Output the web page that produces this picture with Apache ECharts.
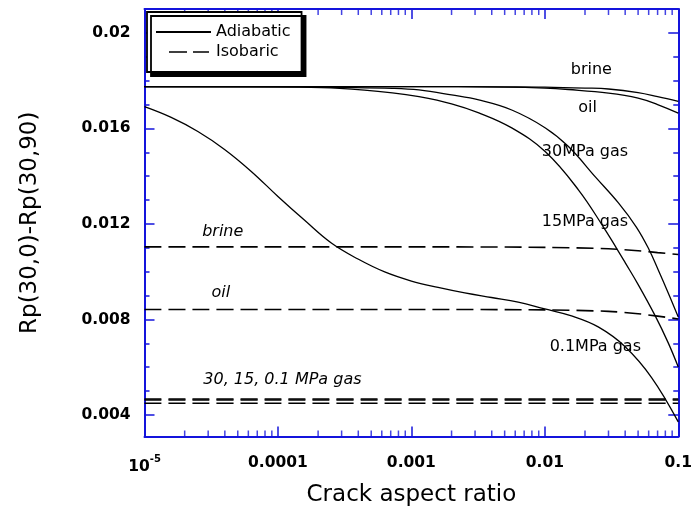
<!DOCTYPE html>
<html><head><meta charset="utf-8">
<script src="https://cdn.jsdelivr.net/npm/echarts@6/dist/echarts.min.js"></script>
<style>html,body{margin:0;padding:0;background:#fff}#c{width:695px;height:516px}</style>
</head><body><div id="c"></div>
<script>
// ---- data ----
const xTickValues = [1e-5, 1e-4, 1e-3, 1e-2, 0.1];
const xTickLabels = ['10^-5', '0.0001', '0.001', '0.01', '0.1'];
const xMinorTicks = [2e-5,3e-5,4e-5,5e-5,6e-5,7e-5,8e-5,9e-5,
                     2e-4,3e-4,4e-4,5e-4,6e-4,7e-4,8e-4,9e-4,
                     2e-3,3e-3,4e-3,5e-3,6e-3,7e-3,8e-3,9e-3,
                     2e-2,3e-2,4e-2,5e-2,6e-2,7e-2,8e-2,9e-2];
const yTickValues = [0.004, 0.008, 0.012, 0.016, 0.02];
const yTickLabels = ['0.004', '0.008', '0.012', '0.016', '0.02'];
const yMinorTicks = [0.004,0.005,0.006,0.007,0.008,0.009,0.010,0.011,0.012,
                     0.013,0.014,0.015,0.016,0.017,0.018,0.019,0.020];
const xRange = [1e-5, 0.1];
const yRange = [0.0031, 0.021];

// Adiabatic (solid) curves: [crack aspect ratio, Rp(30,0)-Rp(30,90)]
const brineAdiabatic = [[1e-5,0.01775],[1e-4,0.01775],[1e-3,0.01775],[0.005,0.01774],[0.01,0.01773],
  [0.02,0.01769],[0.03,0.01765],[0.05,0.01750],[0.07,0.01733],[0.1,0.01713]];
const oilAdiabatic = [[1e-5,0.01775],[1e-4,0.01775],[1e-3,0.01775],[0.005,0.01773],[0.01,0.01769],
  [0.015,0.01763],[0.03,0.01748],[0.05,0.01727],[0.07,0.01700],[0.1,0.01664]];
const gas30Adiabatic = [[1e-5,0.01775],[1e-4,0.01775],[2.9e-4,0.01772],[7.2e-4,0.01768],[1.14e-3,0.01761],
  [2.0e-3,0.01740],[3.2e-3,0.01719],[5.65e-3,0.01677],[1.01e-2,0.01602],[1.51e-2,0.01523],
  [2.39e-2,0.01397],[3.56e-2,0.01288],[4.85e-2,0.01187],[5.96e-2,0.01099],[7.08e-2,0.01007],
  [8.41e-2,0.00911],[0.1,0.00810]];
const gas15Adiabatic = [[1e-5,0.01775],[1.45e-4,0.01773],[2.9e-4,0.01768],[7.2e-4,0.01749],[1.14e-3,0.01733],
  [2.0e-3,0.01703],[3.2e-3,0.01665],[5.65e-3,0.01602],[1.01e-2,0.01502],[1.79e-2,0.01342],
  [2.75e-2,0.01187],[3.44e-2,0.01099],[4.01e-2,0.01037],[5.02e-2,0.00945],[6.72e-2,0.00815],
  [8.41e-2,0.00702],[0.1,0.00601]];
const gas01Adiabatic = [[1e-5,0.01691],[1.585e-5,0.01646],[2.512e-5,0.01587],[3.981e-5,0.01512],
  [6.31e-5,0.01420],[1e-4,0.01315],[1.585e-4,0.01215],[2.512e-4,0.01120],[3.981e-4,0.01053],
  [6.31e-4,0.00999],[1e-3,0.00961],[1.585e-3,0.00934],[2.512e-3,0.00911],[3.981e-3,0.00892],
  [6.31e-3,0.00873],[1e-2,0.00844],[1.585e-2,0.00815],[2.512e-2,0.00769],[3.981e-2,0.00687],
  [6.31e-2,0.00557],[0.1,0.00371]];

// Isobaric (dashed) curves
const brineIsobaric = [[1e-5,0.01104],[1e-4,0.01104],[1e-3,0.01104],[0.01,0.01102],[0.03,0.01096],
  [0.05,0.01088],[0.07,0.01080],[0.1,0.01072]];
const oilIsobaric = [[1e-5,0.00842],[1e-4,0.00842],[1e-3,0.00842],[0.01,0.00840],[0.03,0.00834],
  [0.05,0.00824],[0.07,0.00814],[0.1,0.00802]];
const gas30Isobaric = [[1e-5,0.00467],[1e-4,0.00467],[1e-3,0.00467],[1e-2,0.00467],[0.1,0.00467]];
const gas15Isobaric = [[1e-5,0.00463],[1e-4,0.00463],[1e-3,0.00463],[1e-2,0.00463],[0.1,0.00463]];
const gas01Isobaric = [[1e-5,0.00449],[1e-4,0.00449],[1e-3,0.00449],[1e-2,0.00449],[0.1,0.00449]];

// curve annotations (text, anchor in data coordinates)
const annotations = [
  {name:'brine', value:[0.0223,0.01845], italic:false},
  {name:'oil', value:[0.0209,0.01686], italic:false},
  {name:'30MPa gas', value:[0.0200,0.01502], italic:false},
  {name:'15MPa gas', value:[0.0200,0.01208], italic:false},
  {name:'0.1MPa gas', value:[0.0239,0.00685], italic:false},
  {name:'brine', value:[3.86e-5,0.01166], italic:true},
  {name:'oil', value:[3.73e-5,0.00911], italic:true},
  {name:'30, 15, 0.1 MPa gas', value:[1.08e-4,0.00547], italic:true}
];

// ---- chart ----
const FONT = 'DejaVu Sans';
const BLUE = '#1414dc';
const chart = echarts.init(document.getElementById('c'), null, {renderer:'canvas'});

function solid(data){
  return {type:'line', name:'Adiabatic', data, symbol:'none', smooth:0.4,
    lineStyle:{color:'#000', width:1.3, type:'solid'}, itemStyle:{color:'#000'}, z:3, silent:true};
}
function dashed(data){
  return {type:'line', name:'Isobaric', data, symbol:'none', smooth:0.3,
    lineStyle:{color:'#000', width:1.6, type:[17,7]}, itemStyle:{color:'#000'}, z:2, silent:true};
}
function xLabelFmt(v){
  const i = Math.round(Math.log10(v)) - Math.round(Math.log10(xTickValues[0]));
  const t = xTickLabels[i] || '';
  if (t.indexOf('^') >= 0) { const p = t.split('^'); return '{a|' + p[0] + '}{s|' + p[1] + '}'; }
  return t;
}
function yLabelFmt(v){
  for (let i = 0; i < yTickValues.length; i++) if (Math.abs(v - yTickValues[i]) < 1e-9) return yTickLabels[i];
  return '';
}
const baseX = {type:'log', logBase:10, min:xRange[0], max:xRange[1], splitLine:{show:false},
  axisLine:{show:true, lineStyle:{color:BLUE, width:2}},
  axisTick:{show:true, inside:true, length:10, lineStyle:{color:BLUE, width:1.5}}};
const baseY = {type:'value', min:yRange[0], max:yRange[1], splitLine:{show:false}, scale:true};

chart.setOption({
  animation:false,
  backgroundColor:'#fff',
  grid:{left:144.5, right:15, top:9, bottom:79.5, containLabel:false},
  legend:{
    data:[{name:'Adiabatic'}, {name:'Isobaric', lineStyle:{type:[0,13,18,6,16,20], width:1.6, color:'#000'}}],
    orient:'vertical', left:147, top:12, itemWidth:55, itemHeight:14, itemGap:4,
    padding:[12,11,12,8], backgroundColor:'#fff', borderColor:'#000', borderWidth:1.8,
    shadowColor:'#000', shadowBlur:0, shadowOffsetX:4, shadowOffsetY:4,
    itemStyle:{opacity:0},
    textStyle:{fontFamily:FONT, fontSize:16, color:'#000'}, selectedMode:false, z:10
  },
  xAxis:[
    Object.assign({}, baseX, {position:'bottom',
      name:'Crack aspect ratio', nameLocation:'middle', nameGap:47,
      nameTextStyle:{fontFamily:FONT, fontSize:23, color:'#000'},
      axisLabel:{show:true, margin:18, color:'#000', fontFamily:FONT, fontSize:15.5, fontWeight:'bold',
        formatter:xLabelFmt, showMinLabel:true, showMaxLabel:true,
        rich:{a:{fontFamily:FONT, fontSize:15.5, fontWeight:'bold', color:'#000', lineHeight:20, verticalAlign:'bottom'},
              s:{fontFamily:FONT, fontSize:10, fontWeight:'bold', color:'#000', lineHeight:20, verticalAlign:'top'}}}}),
    Object.assign({}, baseX, {position:'top', axisLabel:{show:false}})
  ],
  yAxis:[
    Object.assign({}, baseY, {position:'left',
      name:'Rp(30,0)-Rp(30,90)', nameLocation:'middle', nameGap:103, nameRotate:90,
      nameTextStyle:{fontFamily:FONT, fontSize:23, color:'#000'},
      axisLine:{show:true, lineStyle:{color:BLUE, width:2}},
      axisTick:{show:true, inside:true, length:10, customValues:yTickValues, lineStyle:{color:BLUE, width:1.5}},
      axisLabel:{show:true, margin:14, customValues:yTickValues, formatter:yLabelFmt, color:'#000',
        fontFamily:FONT, fontSize:15.5, fontWeight:'bold'}}),
    Object.assign({}, baseY, {position:'left', axisLine:{show:false},
      axisTick:{show:true, inside:true, length:5, customValues:yMinorTicks, lineStyle:{color:BLUE, width:1.5}},
      axisLabel:{show:false}}),
    Object.assign({}, baseY, {position:'right',
      axisLine:{show:true, lineStyle:{color:BLUE, width:2}},
      axisTick:{show:true, inside:true, length:10, customValues:yTickValues, lineStyle:{color:BLUE, width:1.5}},
      axisLabel:{show:false}}),
    Object.assign({}, baseY, {position:'right', axisLine:{show:false},
      axisTick:{show:true, inside:true, length:5, customValues:yMinorTicks, lineStyle:{color:BLUE, width:1.5}},
      axisLabel:{show:false}})
  ],
  series:[
    dashed(brineIsobaric), dashed(oilIsobaric), dashed(gas30Isobaric), dashed(gas15Isobaric), dashed(gas01Isobaric),
    solid(brineAdiabatic), solid(oilAdiabatic), solid(gas30Adiabatic), solid(gas15Adiabatic), solid(gas01Adiabatic),
    {type:'scatter', name:'xMinorBottom', silent:true, clip:false, symbol:'rect', symbolSize:[1.5,6], symbolOffset:[0,-3],
      itemStyle:{color:BLUE}, data:xMinorTicks.map(v => [v, yRange[0]]), z:4},
    {type:'scatter', name:'xMinorTop', silent:true, clip:false, symbol:'rect', symbolSize:[1.5,6], symbolOffset:[0,3],
      itemStyle:{color:BLUE}, data:xMinorTicks.map(v => [v, yRange[1]]), z:4},
    {type:'scatter', name:'labels', silent:true, clip:false, symbol:'circle', symbolSize:0,
      itemStyle:{color:'#000', opacity:1},
      data:annotations.map(a => ({name:a.name, value:a.value,
        label:{fontStyle:a.italic ? 'italic' : 'normal', color:'#000'}})),
      label:{show:true, position:'inside', formatter:p => p.name, color:'#000', opacity:1,
        textBorderWidth:0, fontFamily:FONT, fontSize:16}, z:5}
  ]
});
</script></body></html>
